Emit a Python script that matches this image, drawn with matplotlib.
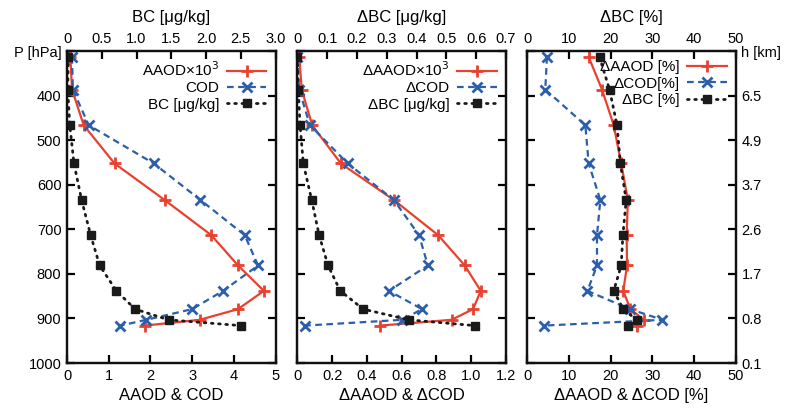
import matplotlib
matplotlib.use('Agg')
import matplotlib.pyplot as plt

plt.rcParams['font.family'] = ['Liberation Sans', 'DejaVu Sans']

# pressure levels [hPa]
pres = [313, 386, 466, 552, 634, 713, 781, 838, 879, 903, 916]

# left panel
aaod = [0.08, 0.12, 0.40, 1.14, 2.34, 3.46, 4.10, 4.72, 4.10, 3.18, 1.86]
cod = [0.12, 0.14, 0.52, 2.08, 3.20, 4.26, 4.58, 3.74, 3.00, 1.90, 1.28]
bc = [0.02, 0.01, 0.04, 0.10, 0.21, 0.34, 0.47, 0.71, 0.98, 1.46, 2.50]

# middle panel (differences)
d_aaod = [0.011, 0.025, 0.085, 0.25, 0.555, 0.81, 0.963, 1.055, 1.011, 0.887, 0.474]
d_cod = [0.0, 0.01, 0.072, 0.29, 0.555, 0.70, 0.751, 0.527, 0.717, 0.603, 0.044]
d_bc = [0.0, 0.003, 0.009, 0.02, 0.048, 0.073, 0.103, 0.144, 0.221, 0.374, 0.595]

# right panel (relative differences)
r_aaod = [14.7, 17.9, 20.7, 22.5, 24.1, 23.8, 23.9, 23.0, 24.7, 27.9, 26.2]
r_cod = [4.7, 4.3, 13.9, 14.7, 17.5, 16.7, 16.7, 14.4, 24.6, 32.4, 3.9]
r_bc = [17.3, 19.7, 21.5, 22.3, 23.7, 22.9, 22.5, 20.7, 23.0, 26.2, 24.1]

p_ticks = [300, 400, 500, 600, 700, 800, 900, 1000]
p_labels = ['P [hPa]', '400', '500', '600', '700', '800', '900', '1000']
h_labels = ['h [km]', '6.5', '4.9', '3.7', '2.6', '1.7', '0.8', '0.1']

RED = '#e8412f'
BLUE = '#2b5eab'
BLACK = '#1a1a1a'

fig = plt.figure(figsize=(7.93, 4.13), dpi=100)

lefts = [0.0845, 0.375, 0.665]
width = 0.263
bottom = 0.121
height = 0.755

panels = [
    (aaod, cod, bc, (0, 5), [0, 1, 2, 3, 4, 5], (0, 3.0), [0, 0.5, 1.0, 1.5, 2.0, 2.5, 3.0],
     'AAOD & COD', 'BC [μg/kg]', ['AAOD×10$^3$', 'COD', 'BC [μg/kg]']),
    (d_aaod, d_cod, d_bc, (0, 1.2), [0, 0.2, 0.4, 0.6, 0.8, 1.0, 1.2], (0, 0.7),
     [0, 0.1, 0.2, 0.3, 0.4, 0.5, 0.6, 0.7],
     'ΔAAOD & ΔCOD', 'ΔBC [μg/kg]', ['ΔAAOD×10$^3$', 'ΔCOD', 'ΔBC [μg/kg]']),
    (r_aaod, r_cod, r_bc, (0, 50), [0, 10, 20, 30, 40, 50], (0, 50), [0, 10, 20, 30, 40, 50],
     'ΔAAOD & ΔCOD [%]', 'ΔBC [%]', ['ΔAAOD [%]', 'ΔCOD[%]', 'ΔBC [%]']),
]

for i, (a, c, b, xlim, xt, tlim, tt, xlab, tlab, names) in enumerate(panels):
    ax = fig.add_axes([lefts[i], bottom, width, height])
    top = ax.twiny()

    l1, = ax.plot(a, pres, color=RED, lw=1.6, marker='+', ms=8, mew=2)
    l2, = ax.plot(c, pres, color=BLUE, lw=1.6, ls=(0, (3, 2)), marker='x', ms=7, mew=2)
    l3, = top.plot(b, pres, color=BLACK, lw=2, ls=(0, (0.6, 2.0)), marker='s', ms=6,
                   dash_capstyle='round')

    ax.set_xlim(xlim)
    ax.set_xticks(xt)
    ax.set_xticklabels([f'{v:g}' if v != 1.0 or i != 1 else '1.0' for v in xt])
    top.set_xlim(tlim)
    top.set_xticks(tt)
    top.set_xticklabels([f'{v:.1f}' if (i == 0 and v != 0) else f'{v:g}' for v in tt])
    ax.set_ylim(1000, 300)

    ax.set_xlabel(xlab, fontsize=12, labelpad=4)
    top.set_xlabel(tlab, fontsize=12, labelpad=7)

    ax.set_yticks(p_ticks)
    if i == 0:
        ax.set_yticklabels(p_labels)
        ax.tick_params(axis='y', left=True, right=True, labelleft=True, labelright=False)
    elif i == 1:
        ax.tick_params(axis='y', left=True, right=True, labelleft=False, labelright=False)
    else:
        ax.set_yticklabels(h_labels)
        ax.tick_params(axis='y', left=True, right=True, labelleft=False, labelright=True)

    for a_ in (ax, top):
        a_.tick_params(direction='in', length=5.5, width=1.6, labelsize=10.5, pad=4)
        for s in a_.spines.values():
            s.set_linewidth(1.6)
            s.set_color('#111111')

    leg = ax.legend([l1, l2, l3], names, loc='upper right', frameon=False,
                    markerfirst=False, fontsize=11, handlelength=2.6,
                    borderaxespad=0.2, labelspacing=0.15, handletextpad=0.5)
    for t in leg.get_texts():
        t.set_ha('right')

fig.savefig('out.png', dpi=100)
